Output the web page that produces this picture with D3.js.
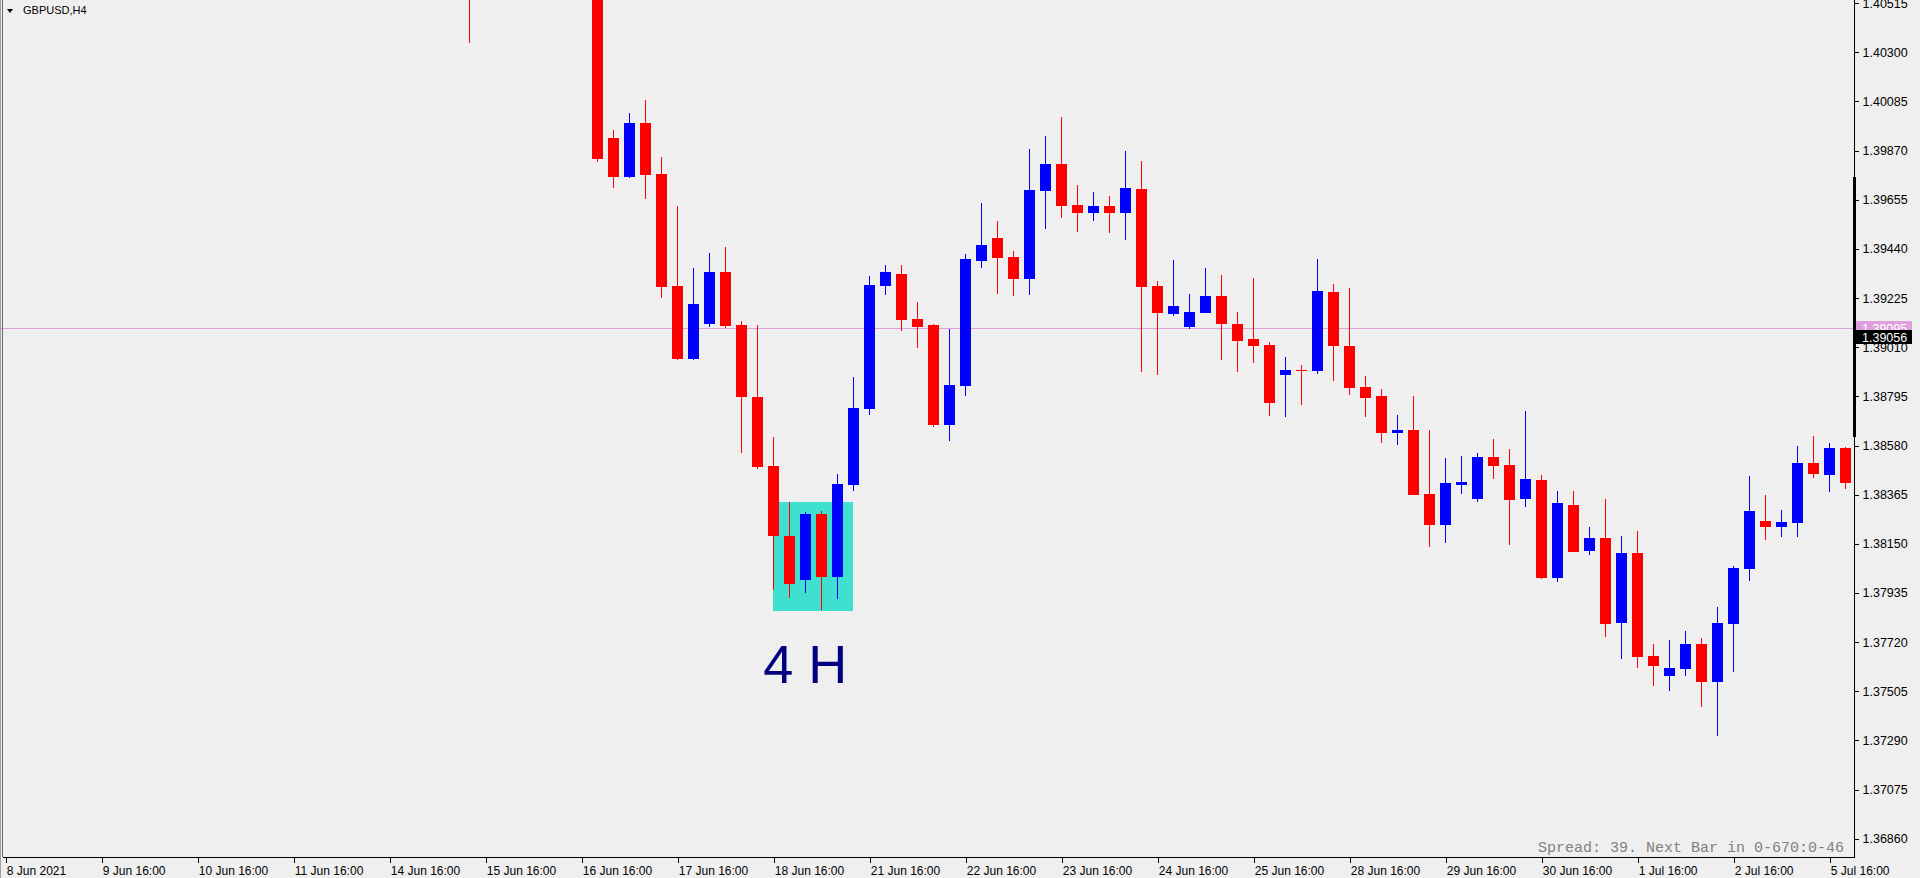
<!DOCTYPE html>
<html>
<head>
<meta charset="utf-8">
<script src="https://cdn.jsdelivr.net/npm/d3@7"></script>
<style>
  html, body { margin: 0; padding: 0; background: #efefef; overflow: hidden; }
  svg { display: block; }
</style>
</head>
<body>
<script>
// ---------------- DATA ----------------
const symbolTitle = "GBPUSD,H4";
const tradingDays = ["8 Jun","9 Jun","10 Jun","11 Jun","14 Jun","15 Jun","16 Jun","17 Jun","18 Jun","21 Jun",
  "22 Jun","23 Jun","24 Jun","25 Jun","28 Jun","29 Jun","30 Jun","1 Jul","2 Jul","5 Jul"];
const xTickLabels = ["8 Jun 2021","9 Jun 16:00","10 Jun 16:00","11 Jun 16:00","14 Jun 16:00","15 Jun 16:00",
  "16 Jun 16:00","17 Jun 16:00","18 Jun 16:00","21 Jun 16:00","22 Jun 16:00","23 Jun 16:00","24 Jun 16:00",
  "25 Jun 16:00","28 Jun 16:00","29 Jun 16:00","30 Jun 16:00","1 Jul 16:00","2 Jul 16:00","5 Jul 16:00"];
const yTickValues = [1.40515,1.40300,1.40085,1.39870,1.39655,1.39440,1.39225,1.39010,1.38795,1.38580,
  1.38365,1.38150,1.37935,1.37720,1.37505,1.37290,1.37075,1.36860];
const lastCandle = "5 Jul 20:00";
const seriesStart = "15 Jun 12:00";   // first candle of the OHLC arrays below
const openP = [1.40720, null,null,null,null,null,null,null,
  1.40690,1.39925,1.39755,1.39991,1.39768,1.39278,1.38958,1.39113,1.39339,1.39107,1.38793,1.38490,1.38184,1.37993,
  1.38280,1.38006,1.38409,1.38741,1.39279,1.39330,1.39133,1.39107,1.38671,1.38842,1.39388,1.39489,1.39405,1.39310,
  1.39695,1.39811,1.39631,1.39598,1.39626,1.39598,1.39702,1.39276,1.39157,1.39098,1.39161,1.39234,1.39112,1.39046,
  1.39020,1.38890,1.38910,1.38907,1.39252,1.39015,1.38837,1.38797,1.38633,1.38648,1.38368,1.38234,1.38407,1.38347,
  1.38530,1.38495,1.38347,1.38429,1.38002,1.38320,1.38120,1.38175,1.37805,1.38110,1.37659,1.37573,1.37604,1.37712,
  1.37547,1.37800,1.38041,1.38250,1.38225,1.38242,1.38503,1.38452,1.38569];
const highP = [1.40790, null,null,null,null,null,null,null,
  1.40720,1.39960,1.40034,1.40091,1.39842,1.39628,1.39358,1.39422,1.39448,1.39125,1.39107,1.38617,1.38333,1.38288,
  1.38295,1.38455,1.38880,1.39321,1.39370,1.39370,1.39208,1.39112,1.39090,1.39418,1.39641,1.39562,1.39431,1.39877,
  1.39934,1.40017,1.39720,1.39689,1.39671,1.39868,1.39825,1.39300,1.39392,1.39243,1.39356,1.39326,1.39164,1.39313,
  1.39033,1.38967,1.38932,1.39396,1.39286,1.39269,1.38885,1.38827,1.38713,1.38797,1.38648,1.38525,1.38534,1.38547,
  1.38608,1.38565,1.38731,1.38451,1.38381,1.38381,1.38223,1.38346,1.38185,1.38206,1.37712,1.37729,1.37769,1.37738,
  1.37874,1.38053,1.38447,1.38363,1.38298,1.38578,1.38622,1.38591,1.38573];
const lowP = [1.40342, null,null,null,null,null,null,null,
  1.39821,1.39708,1.39751,1.39660,1.39227,1.38954,1.38954,1.39100,1.39095,1.38548,1.38477,1.37949,1.37914,1.37936,
  1.37860,1.37908,1.38382,1.38713,1.39240,1.39082,1.39008,1.38662,1.38601,1.38798,1.39358,1.39244,1.39235,1.39240,
  1.39528,1.39576,1.39515,1.39563,1.39511,1.39480,1.38903,1.38890,1.39148,1.39091,1.39161,1.38955,1.38903,1.38942,
  1.38710,1.38706,1.38759,1.38894,1.38864,1.38802,1.38706,1.38592,1.38584,1.38365,1.38137,1.38155,1.38369,1.38334,
  1.38435,1.38146,1.38312,1.37997,1.37984,1.38115,1.38102,1.37744,1.37647,1.37608,1.37529,1.37507,1.37573,1.37437,
  1.37311,1.37590,1.37989,1.38168,1.38181,1.38181,1.38439,1.38378,1.38391];
const closeP = [1.40600, null,null,null,null,null,null,null,
  1.39835,1.39756,1.39991,1.39765,1.39275,1.38958,1.39199,1.39339,1.39104,1.38793,1.38487,1.38185,1.37975,1.38280,
  1.38006,1.38412,1.38744,1.39282,1.39339,1.39130,1.39100,1.38671,1.38845,1.39396,1.39457,1.39401,1.39310,1.39698,
  1.39811,1.39629,1.39598,1.39626,1.39598,1.39706,1.39275,1.39161,1.39190,1.39164,1.39234,1.39113,1.39038,1.39017,
  1.38767,1.38910,1.38906,1.39256,1.39017,1.38833,1.38789,1.38633,1.38648,1.38365,1.38234,1.38416,1.38420,1.38530,
  1.38492,1.38343,1.38433,1.38002,1.38328,1.38115,1.38175,1.37800,1.38110,1.37656,1.37617,1.37607,1.37712,1.37547,
  1.37804,1.38044,1.38293,1.38225,1.38245,1.38503,1.38457,1.38569,1.38417];
// objects
const hLinePrice = 1.39095;
const bidPrice = 1.39056;
const boxFrom = "18 Jun 16:00", boxTo = "21 Jun 12:00";
const boxTop = 1.38333, boxBottom = 1.37858;
const noteText = "4 H", noteCandle = "21 Jun 00:00", notePrice = 1.37541;
const spreadText = "Spread: 39. Next Bar in 0-670:0-46";

// ---------------- BUILD ----------------
const W = 1920, H = 878;
const axisX = 1854, axisY = 857;

// candle time categories: each trading day label marks 16:00 and 20:00, next day 00:00..12:00
const candleTimes = [];
const pad = h => (h < 10 ? "0" : "") + h + ":00";
outer:
for (let i = 0; i < tradingDays.length; i++) {
  for (let j = 0; j < 6; j++) {
    const lbl = j < 2 ? tradingDays[i] + " " + pad(16 + 4 * j)
                      : tradingDays[i + 1] + " " + pad(4 * (j - 2));
    candleTimes.push(lbl);
    if (lbl === lastCandle) break outer;
  }
}

const s0 = candleTimes.indexOf(seriesStart);
const candles = openP.map((o, i) => ({
  t: candleTimes[s0 + i], o, h: highP[i], l: lowP[i], c: closeP[i]
})).filter(d => d.h != null);

const x = d3.scalePoint().domain(candleTimes).range([5.3, 5.3 + 16 * (candleTimes.length - 1)]);
const y = d3.scaleLinear().domain([1.36860, 1.40300]).range([838.7, 52.3]);

const svg = d3.select("body").append("svg").attr("width", W).attr("height", H)
  .style("font-family", "'Liberation Sans', Arial, sans-serif");

svg.append("rect").attr("width", W).attr("height", H).attr("fill", "#efefef");

const defs = svg.append("defs");
defs.append("clipPath").attr("id", "plot").append("rect")
  .attr("x", 0).attr("y", 0).attr("width", axisX).attr("height", axisY);

const plot = svg.append("g").attr("clip-path", "url(#plot)");

// rectangle object (background)
plot.append("rect")
  .attr("x", Math.round(x(boxFrom)))
  .attr("y", Math.round(y(boxTop)))
  .attr("width", Math.round(x(boxTo)) - Math.round(x(boxFrom)))
  .attr("height", Math.round(y(boxBottom)) - Math.round(y(boxTop)))
  .attr("fill", "#40e0d0");

// horizontal line object
plot.append("line")
  .attr("x1", 0).attr("x2", axisX)
  .attr("y1", Math.round(y(hLinePrice)) + 0.5).attr("y2", Math.round(y(hLinePrice)) + 0.5)
  .attr("stroke", "#dda0dd").attr("stroke-width", 1);

// candles
const cg = plot.append("g").attr("shape-rendering", "crispEdges");
const col = d => (d.c > d.o ? "#0000ff" : "#ff0000");
cg.selectAll("rect.wick").data(candles).join("rect").attr("class", "wick")
  .attr("x", d => Math.round(x(d.t)))
  .attr("width", 1)
  .attr("y", d => y(d.h))
  .attr("height", d => Math.max(1, y(d.l) - y(d.h)))
  .attr("fill", col);
cg.selectAll("rect.body").data(candles).join("rect").attr("class", "body")
  .attr("x", d => Math.round(x(d.t)) - 5)
  .attr("width", 11)
  .attr("y", d => Math.round(y(Math.max(d.o, d.c))))
  .attr("height", d => Math.max(1, Math.round(y(Math.min(d.o, d.c))) - Math.round(y(Math.max(d.o, d.c)))))
  .attr("fill", col);

// text object
plot.append("text")
  .attr("x", x(noteCandle)).attr("y", y(notePrice))
  .attr("text-anchor", "middle")
  .attr("font-size", 54).attr("fill", "#000080")
  .text(noteText);

// spread info
svg.append("text")
  .attr("x", 1844).attr("y", 852)
  .attr("text-anchor", "end")
  .attr("font-family", "'Liberation Mono', 'Courier New', monospace")
  .attr("font-size", 15).attr("fill", "#808080")
  .text(spreadText);

// title
svg.append("path").attr("d", "M7,9 L13,9 L10,13 Z").attr("fill", "#000");
svg.append("text").attr("x", 23).attr("y", 14).attr("font-size", 11).attr("fill", "#000").text(symbolTitle);

// left border
svg.append("rect").attr("x", 0).attr("y", 0).attr("width", 1).attr("height", H).attr("fill", "#a0a0a0");
svg.append("rect").attr("x", 2).attr("y", 0).attr("width", 1).attr("height", axisY).attr("fill", "#696969");

// Y axis
const yAxis = d3.axisRight(y).tickValues(yTickValues).tickFormat(d3.format(".5f"))
  .tickSize(4).tickSizeOuter(0).tickPadding(4);
const gy = svg.append("g").attr("transform", `translate(${axisX + 0.5},0)`).call(yAxis);
gy.select(".domain").remove();
gy.selectAll("line").attr("stroke", "#000").attr("shape-rendering", "crispEdges");
gy.selectAll("text").attr("font-size", 12.5).attr("fill", "#000")
  .attr("font-family", "'Liberation Sans', Arial, sans-serif");

// X axis
const tickCandles = tradingDays.map(d => d + " 16:00");
const xAxis = d3.axisBottom(x).tickValues(tickCandles)
  .tickFormat((d, i) => xTickLabels[i]).tickSize(5).tickSizeOuter(0).tickPadding(4);
const gx = svg.append("g").attr("transform", `translate(0,${axisY + 0.5})`).call(xAxis);
gx.select(".domain").remove();
gx.selectAll(".tick line").attr("stroke", "#000").attr("shape-rendering", "crispEdges")
  .attr("transform", "translate(0.5,0)");
gx.selectAll("text").attr("text-anchor", "start").attr("dx", 0).attr("x", 1)
  .attr("font-size", 12).attr("fill", "#000")
  .attr("font-family", "'Liberation Sans', Arial, sans-serif");

// axis lines
svg.append("rect").attr("x", axisX).attr("y", 0).attr("width", 1).attr("height", axisY + 1).attr("fill", "#000");
svg.append("rect").attr("x", 3).attr("y", axisY).attr("width", axisX - 3).attr("height", 1).attr("fill", "#000");
// thick segment on the price scale
svg.append("rect").attr("x", axisX - 1).attr("y", 177).attr("width", 3).attr("height", 260).attr("fill", "#000");

// price labels
const lblX = axisX + 2, lblW = 56;
const yh = y(hLinePrice);
svg.append("rect").attr("x", lblX).attr("y", Math.round(yh) - 7).attr("width", lblW).attr("height", 14).attr("fill", "#dda0dd");
svg.append("text").attr("x", lblX + 6).attr("y", Math.round(yh) + 5).attr("font-size", 12.5).attr("fill", "#fff")
  .text(d3.format(".5f")(hLinePrice));
const yb = y(bidPrice);
svg.append("rect").attr("x", lblX).attr("y", Math.round(yb) - 7).attr("width", lblW).attr("height", 14).attr("fill", "#000");
svg.append("text").attr("x", lblX + 6).attr("y", Math.round(yb) + 5).attr("font-size", 12.5).attr("fill", "#fff")
  .text(d3.format(".5f")(bidPrice));
</script>
</body>
</html>
